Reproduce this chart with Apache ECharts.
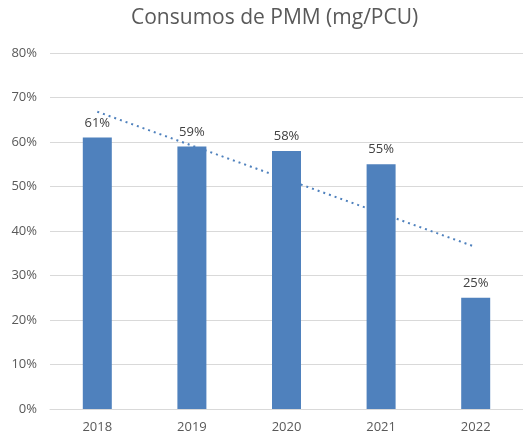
<!DOCTYPE html>
<html>
<head>
<meta charset="utf-8">
<script src="https://cdn.jsdelivr.net/npm/echarts@6/dist/echarts.min.js"></script>
<style>
  html, body { margin: 0; padding: 0; background: #fff; }
  #chart { width: 523px; height: 439px; }
</style>
</head>
<body>
<div id="chart"></div>
<script>
// datos
const years = ['2018', '2019', '2020', '2021', '2022'];
const consumos = [61, 59, 58, 55, 25];
// línea de tendencia (extremos)
const tendencia = [66.8, null, null, null, 36.4];
const yTicks = [0, 10, 20, 30, 40, 50, 60, 70, 80];

const font = '"Open Sans", "Liberation Sans", sans-serif';
const chart = echarts.init(document.getElementById('chart'));

chart.setOption({
  animation: false,
  title: {
    text: 'Consumos de PMM (mg/PCU)',
    left: 126,
    top: 3,
    textStyle: { color: '#595959', fontSize: 21, fontWeight: 'normal', fontFamily: font }
  },
  grid: { left: 50, right: -2, top: 53, bottom: 30 },
  xAxis: {
    type: 'category',
    data: years,
    axisTick: { show: false },
    axisLine: { lineStyle: { color: '#d9d9d9' } },
    axisLabel: { color: '#595959', fontSize: 13, margin: 12, fontFamily: font }
  },
  yAxis: {
    type: 'value',
    min: yTicks[0],
    max: yTicks[yTicks.length - 1],
    interval: 10,
    axisLine: { show: false },
    axisTick: { show: false },
    splitLine: { lineStyle: { color: '#d9d9d9' } },
    axisLabel: { color: '#595959', fontSize: 13, margin: 13, fontFamily: font, formatter: v => v + '%' }
  },
  series: [
    {
      type: 'line',
      data: tendencia,
      connectNulls: true,
      symbol: 'none',
      z: 1,
      lineStyle: { color: '#4f81bd', width: 2, type: [2, 4] }
    },
    {
      type: 'bar',
      data: consumos,
      barWidth: 29,
      z: 2,
      itemStyle: { color: '#4f81bd' },
      label: {
        show: true,
        position: 'top',
        distance: 8,
        color: '#404040',
        fontSize: 13,
        fontFamily: font,
        formatter: p => p.value + '%'
      }
    }
  ]
});
</script>
</body>
</html>
